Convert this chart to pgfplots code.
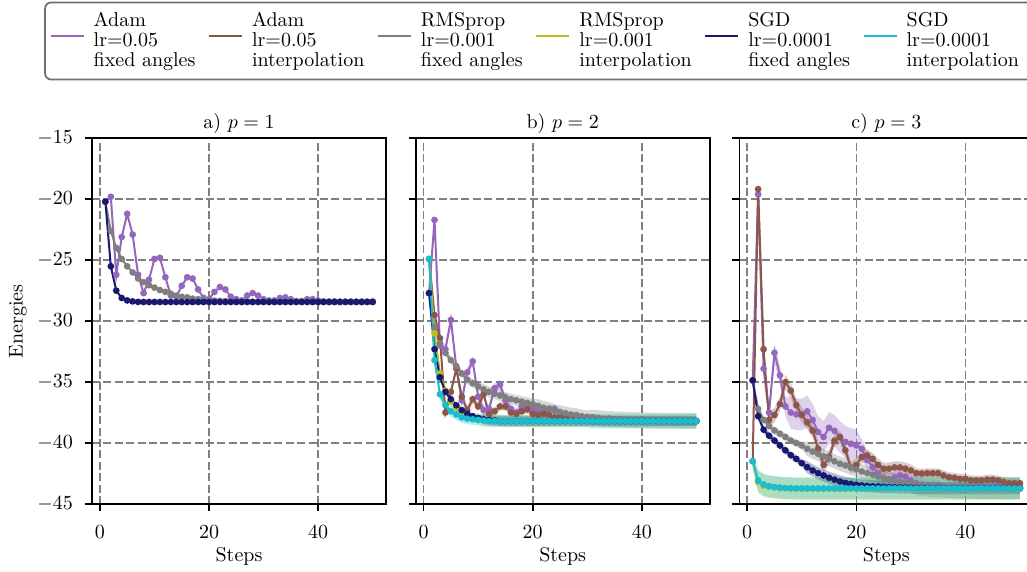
\documentclass[border=0pt]{standalone}
\usepackage{pgfplots}
\pgfplotsset{compat=1.18}
\usepackage{pgfplotstable}
\usepgfplotslibrary{fillbetween}

\definecolor{cPurple}{HTML}{9467BD}
\definecolor{cBrown}{HTML}{8C564B}
\definecolor{cGray}{HTML}{7F7F7F}
\definecolor{cOlive}{HTML}{BCBD22}
\definecolor{cNavy}{HTML}{191970}
\definecolor{cCyan}{HTML}{17BECF}
\definecolor{gridgray}{HTML}{808080}
\definecolor{legendgray}{HTML}{707070}

\pgfplotstableread{
s adF rmF sgF
1 -20.2 -20.2 -20.2
2 -19.8 -22.6 -25.5
3 -26.2 -24.0 -27.5
4 -23.1 -24.9 -28.1
5 -21.2 -25.5 -28.3
6 -22.9 -26.0 -28.38
7 -26.2 -26.5 -28.42
8 -27.7 -26.8 -28.43
9 -26.6 -27.05 -28.43
10 -24.9 -27.25 -28.43
11 -24.8 -27.45 -28.43
12 -26.4 -27.6 -28.43
13 -27.9 -27.75 -28.43
14 -28.0 -27.9 -28.43
15 -27.1 -28.0 -28.43
16 -26.4 -28.05 -28.43
17 -26.5 -28.15 -28.43
18 -27.4 -28.2 -28.43
19 -28.1 -28.25 -28.43
20 -28.2 -28.3 -28.43
21 -27.6 -28.32 -28.43
22 -27.2 -28.34 -28.43
23 -27.4 -28.36 -28.43
24 -28.0 -28.37 -28.43
25 -28.2 -28.38 -28.43
26 -28.3 -28.39 -28.43
27 -27.9 -28.4 -28.43
28 -27.7 -28.4 -28.43
29 -27.9 -28.4 -28.43
30 -28.2 -28.4 -28.43
31 -28.3 -28.4 -28.43
32 -28.3 -28.4 -28.43
33 -28.1 -28.4 -28.43
34 -28.05 -28.4 -28.43
35 -28.2 -28.4 -28.43
36 -28.35 -28.4 -28.43
37 -28.35 -28.4 -28.43
38 -28.2 -28.4 -28.43
39 -28.2 -28.4 -28.43
40 -28.3 -28.4 -28.43
41 -28.38 -28.4 -28.43
42 -28.4 -28.4 -28.43
43 -28.38 -28.4 -28.43
44 -28.4 -28.4 -28.43
45 -28.4 -28.4 -28.43
46 -28.4 -28.4 -28.43
47 -28.4 -28.4 -28.43
48 -28.4 -28.4 -28.43
49 -28.4 -28.4 -28.43
50 -28.4 -28.4 -28.43
}\tA

\pgfplotstableread{
s adF adI rmF rmI sgF sgI eA eB eR eO eS eC
1 -27.7 -24.9 -27.7 -24.9 -27.7 -24.9 0 0 0 0 0 0
2 -21.7 -29.5 -30.5 -31.0 -32.3 -33.2 0.4 0.35 0.3 0.4 0.2 0.3
3 -32.0 -31.4 -31.8 -34.3 -34.6 -36.0 0.4 0.35 0.35 0.4 0.2 0.45
4 -32.3 -37.5 -32.6 -35.7 -35.8 -36.9 0.4 0.35 0.35 0.4 0.2 0.45
5 -29.9 -35.8 -33.2 -36.6 -36.4 -37.4 0.4 0.35 0.35 0.4 0.2 0.45
6 -33.8 -33.9 -33.7 -37.1 -36.9 -37.65 0.4 0.35 0.35 0.4 0.2 0.45
7 -36.5 -36.2 -34.3 -37.5 -37.3 -37.9 0.4 0.35 0.35 0.4 0.2 0.45
8 -34.2 -37.3 -34.8 -37.7 -37.6 -38.0 0.4 0.35 0.35 0.4 0.2 0.45
9 -33.3 -36.4 -35.1 -37.9 -37.8 -38.05 0.4 0.35 0.35 0.4 0.2 0.45
10 -36.2 -37.0 -35.35 -38.0 -37.95 -38.1 0.4 0.35 0.35 0.4 0.2 0.45
11 -37.3 -36.0 -35.6 -38.05 -38.05 -38.15 0.4 0.35 0.45 0.5 0.4 0.5
12 -37.2 -37.6 -35.8 -38.1 -38.1 -38.2 0.4 0.35 0.45 0.5 0.4 0.5
13 -35.5 -37.4 -35.95 -38.12 -38.15 -38.2 0.4 0.35 0.45 0.5 0.4 0.5
14 -35.2 -37.0 -36.1 -38.15 -38.2 -38.2 0.4 0.35 0.45 0.5 0.4 0.5
15 -36.5 -37.0 -36.25 -38.2 -38.2 -38.2 0.4 0.35 0.45 0.5 0.4 0.5
16 -37.2 -37.5 -36.4 -38.2 -38.2 -38.2 0.35 0.3 0.45 0.5 0.4 0.5
17 -37.5 -37.6 -36.5 -38.2 -38.2 -38.2 0.35 0.3 0.45 0.5 0.4 0.5
18 -37.0 -37.4 -36.6 -38.2 -38.2 -38.2 0.35 0.3 0.45 0.5 0.4 0.5
19 -36.9 -37.25 -36.7 -38.2 -38.2 -38.2 0.35 0.3 0.45 0.5 0.4 0.5
20 -37.2 -37.6 -36.8 -38.2 -38.2 -38.2 0.35 0.3 0.45 0.5 0.4 0.5
21 -37.4 -37.7 -36.95 -38.2 -38.2 -38.2 0.35 0.3 0.55 0.5 0.4 0.5
22 -37.5 -37.6 -37.1 -38.2 -38.2 -38.2 0.35 0.3 0.55 0.5 0.4 0.5
23 -37.2 -37.7 -37.2 -38.2 -38.2 -38.2 0.35 0.3 0.55 0.5 0.4 0.5
24 -37.2 -37.9 -37.35 -38.2 -38.2 -38.2 0.35 0.3 0.55 0.5 0.4 0.5
25 -37.6 -37.9 -37.45 -38.2 -38.2 -38.2 0.35 0.3 0.55 0.5 0.4 0.5
26 -37.9 -38.0 -37.55 -38.2 -38.2 -38.2 0.35 0.3 0.55 0.5 0.4 0.5
27 -37.8 -37.95 -37.65 -38.2 -38.2 -38.2 0.35 0.3 0.55 0.5 0.4 0.5
28 -37.9 -38.0 -37.7 -38.2 -38.2 -38.2 0.35 0.3 0.55 0.5 0.4 0.5
29 -37.95 -38.05 -37.8 -38.2 -38.2 -38.2 0.35 0.3 0.55 0.5 0.4 0.5
30 -38.0 -38.05 -37.85 -38.2 -38.2 -38.2 0.35 0.3 0.55 0.5 0.4 0.5
31 -37.9 -38.1 -37.9 -38.2 -38.2 -38.2 0.3 0.3 0.65 0.5 0.4 0.6
32 -38.0 -38.1 -37.95 -38.2 -38.2 -38.2 0.3 0.3 0.65 0.5 0.4 0.6
33 -38.05 -38.1 -38.0 -38.2 -38.2 -38.2 0.3 0.3 0.65 0.5 0.4 0.6
34 -38.0 -38.1 -38.02 -38.2 -38.2 -38.2 0.3 0.3 0.65 0.5 0.4 0.6
35 -38.1 -38.1 -38.05 -38.2 -38.2 -38.2 0.3 0.3 0.65 0.5 0.4 0.6
36 -38.1 -38.12 -38.07 -38.2 -38.2 -38.2 0.3 0.3 0.65 0.5 0.4 0.6
37 -38.1 -38.12 -38.09 -38.2 -38.2 -38.2 0.3 0.3 0.65 0.5 0.4 0.6
38 -38.12 -38.13 -38.1 -38.2 -38.2 -38.2 0.3 0.3 0.65 0.5 0.4 0.6
39 -38.12 -38.14 -38.12 -38.2 -38.2 -38.2 0.3 0.3 0.65 0.5 0.4 0.6
40 -38.14 -38.15 -38.13 -38.2 -38.2 -38.2 0.3 0.3 0.65 0.5 0.4 0.6
41 -38.15 -38.15 -38.14 -38.2 -38.2 -38.2 0.3 0.3 0.65 0.5 0.4 0.6
42 -38.15 -38.16 -38.15 -38.2 -38.2 -38.2 0.3 0.3 0.65 0.5 0.4 0.6
43 -38.16 -38.16 -38.16 -38.2 -38.2 -38.2 0.3 0.3 0.65 0.5 0.4 0.6
44 -38.16 -38.17 -38.16 -38.2 -38.2 -38.2 0.3 0.3 0.65 0.5 0.4 0.6
45 -38.17 -38.17 -38.17 -38.2 -38.2 -38.2 0.3 0.3 0.65 0.5 0.4 0.6
46 -38.17 -38.18 -38.17 -38.2 -38.2 -38.2 0.3 0.3 0.65 0.5 0.4 0.6
47 -38.18 -38.18 -38.18 -38.2 -38.2 -38.2 0.3 0.3 0.65 0.5 0.4 0.6
48 -38.18 -38.19 -38.18 -38.2 -38.2 -38.2 0.3 0.3 0.65 0.5 0.4 0.6
49 -38.19 -38.19 -38.19 -38.2 -38.2 -38.2 0.3 0.3 0.65 0.5 0.4 0.6
50 -38.2 -38.2 -38.2 -38.2 -38.2 -38.2 0.3 0.3 0.65 0.5 0.4 0.6
}\tB

\pgfplotstableread{
s adF adI rmF rmI sgF sgI eA eB eR eO eS eC
1 -34.86 -41.5 -34.86 -41.5 -34.86 -41.5 0 0 0 0.6 0 0.6
2 -19.6 -19.17 -37.2 -43.2 -37.8 -43.07 0.6 0.5 0.3 0.9 0.3 0.9
3 -33.9 -32.3 -38.1 -43.5 -38.9 -43.4 0.8 0.6 0.3 0.9 0.3 0.9
4 -37.5 -38.1 -38.6 -43.6 -39.4 -43.54 0.8 0.6 0.3 0.9 0.3 0.9
5 -32.6 -37.7 -38.97 -43.65 -39.8 -43.6 0.8 0.6 0.3 0.9 0.3 0.9
6 -34.45 -36.8 -39.24 -43.7 -40.2 -43.65 0.8 0.6 0.3 0.9 0.3 0.9
7 -37.0 -35.0 -39.5 -43.72 -40.6 -43.68 0.8 0.6 0.3 0.9 0.3 0.9
8 -37.5 -35.7 -39.8 -43.74 -41.0 -43.7 1.3 0.6 0.3 0.9 0.3 0.9
9 -37.65 -36.9 -40.0 -43.75 -41.3 -43.72 1.3 0.6 0.3 0.9 0.3 0.9
10 -37.65 -37.7 -40.2 -43.75 -41.65 -43.72 1.3 0.6 0.3 0.9 0.3 0.9
11 -37.4 -38.3 -40.47 -43.75 -41.98 -43.72 1.3 0.6 0.6 0.9 0.5 0.9
12 -38.1 -38.97 -40.7 -43.75 -42.25 -43.72 1.3 0.6 0.6 0.9 0.5 0.9
13 -39.1 -40.47 -40.88 -43.75 -42.47 -43.72 1.3 0.6 0.6 0.9 0.5 0.9
14 -39.5 -41.8 -41.1 -43.75 -42.66 -43.72 1.3 0.6 0.6 0.9 0.5 0.9
15 -38.75 -41.16 -41.3 -43.75 -42.85 -43.72 1.3 0.6 0.6 0.9 0.5 0.9
16 -39.0 -39.8 -41.5 -43.75 -43.0 -43.72 1.3 0.5 0.6 0.9 0.5 0.9
17 -39.5 -39.5 -41.7 -43.75 -43.15 -43.72 1.3 0.5 0.6 0.9 0.5 0.9
18 -39.9 -40.6 -41.84 -43.75 -43.27 -43.72 1.3 0.5 0.6 0.9 0.5 0.9
19 -40.06 -42.0 -42.0 -43.75 -43.35 -43.72 1.3 0.5 0.6 0.9 0.5 0.9
20 -40.2 -41.8 -42.17 -43.75 -43.43 -43.72 1.3 0.5 0.6 0.9 0.5 0.9
21 -40.47 -41.16 -42.33 -43.75 -43.48 -43.72 0.8 0.5 0.6 0.9 0.5 0.9
22 -41.4 -41.02 -42.47 -43.75 -43.52 -43.72 0.8 0.5 0.6 0.9 0.5 0.9
23 -42.0 -41.3 -42.6 -43.75 -43.55 -43.72 0.8 0.5 0.6 0.9 0.5 0.9
24 -42.5 -41.8 -42.74 -43.75 -43.57 -43.72 0.8 0.5 0.6 0.9 0.5 0.9
25 -42.85 -42.1 -42.85 -43.75 -43.6 -43.72 0.8 0.5 0.6 0.9 0.5 0.9
26 -43.0 -42.1 -42.96 -43.75 -43.62 -43.72 0.5 0.5 0.6 0.9 0.5 0.9
27 -42.8 -42.0 -43.07 -43.75 -43.63 -43.72 0.5 0.5 0.6 0.9 0.5 0.9
28 -42.66 -42.0 -43.18 -43.75 -43.64 -43.72 0.5 0.5 0.6 0.9 0.5 0.9
29 -42.75 -42.1 -43.27 -43.75 -43.65 -43.72 0.5 0.5 0.6 0.9 0.5 0.9
30 -43.07 -42.25 -43.35 -43.75 -43.66 -43.72 0.5 0.5 0.6 0.9 0.5 0.9
31 -43.3 -42.47 -43.4 -43.75 -43.67 -43.72 0.5 0.4 0.9 0.9 0.5 0.9
32 -43.4 -42.5 -43.45 -43.75 -43.68 -43.72 0.5 0.4 0.9 0.9 0.5 0.9
33 -43.45 -42.47 -43.5 -43.75 -43.68 -43.72 0.5 0.4 0.9 0.9 0.5 0.9
34 -43.5 -42.47 -43.53 -43.75 -43.69 -43.72 0.5 0.4 0.9 0.9 0.5 0.9
35 -43.5 -42.47 -43.55 -43.75 -43.69 -43.72 0.5 0.4 0.9 0.9 0.5 0.9
36 -43.55 -42.66 -43.58 -43.75 -43.7 -43.72 0.3 0.4 0.9 0.9 0.5 0.9
37 -43.58 -42.8 -43.6 -43.75 -43.7 -43.72 0.3 0.4 0.9 0.9 0.5 0.9
38 -43.6 -42.85 -43.62 -43.75 -43.7 -43.72 0.3 0.4 0.9 0.9 0.5 0.9
39 -43.6 -42.94 -43.64 -43.75 -43.7 -43.72 0.3 0.4 0.9 0.9 0.5 0.9
40 -43.6 -42.94 -43.65 -43.75 -43.7 -43.72 0.3 0.4 0.9 0.9 0.5 0.9
41 -43.6 -43.07 -43.66 -43.75 -43.7 -43.72 0.3 0.4 0.9 0.9 0.5 0.9
42 -43.6 -43.07 -43.67 -43.75 -43.7 -43.72 0.3 0.4 0.9 0.9 0.5 0.9
43 -43.6 -43.07 -43.68 -43.75 -43.7 -43.72 0.3 0.4 0.9 0.9 0.5 0.9
44 -43.6 -43.0 -43.68 -43.75 -43.7 -43.72 0.3 0.4 0.9 0.9 0.5 0.9
45 -43.6 -43.0 -43.69 -43.75 -43.7 -43.72 0.3 0.4 0.9 0.9 0.5 0.9
46 -43.6 -43.07 -43.69 -43.75 -43.7 -43.72 0.3 0.4 0.9 0.9 0.5 0.9
47 -43.6 -43.2 -43.7 -43.75 -43.7 -43.72 0.3 0.4 0.9 0.9 0.5 0.9
48 -43.6 -43.3 -43.7 -43.75 -43.7 -43.72 0.3 0.4 0.9 0.9 0.5 0.9
49 -43.6 -43.3 -43.7 -43.75 -43.7 -43.72 0.3 0.4 0.9 0.9 0.5 0.9
50 -43.6 -43.3 -43.7 -43.75 -43.7 -43.72 0.3 0.4 0.9 0.9 0.5 0.9
}\tC

% band: table, column, sd column, colour, unique id
\newcommand{\band}[5]{%
  \addplot[draw=none, forget plot, name path=#5u] table[x=s, y expr=\thisrow{#2}+\thisrow{#3}] {#1};
  \addplot[draw=none, forget plot, name path=#5l] table[x=s, y expr=\thisrow{#2}-\thisrow{#3}] {#1};
  \addplot[fill=#4, fill opacity=0.3, draw=none, forget plot] fill between[of=#5u and #5l];
}
\newcommand{\series}[3]{%
  \addplot[#3, line width=1pt, mark=*, mark size=1.15pt, mark options={solid, fill=#3, draw=#3}, forget plot] table[x=s, y=#2] {#1};
}
\newcommand{\legtext}[3]{{\renewcommand{\arraystretch}{0.82}\begin{tabular}[b]{@{}l@{}}#1\\#2\\#3\end{tabular}}}

\pgfplotsset{
  panel/.style={
    scale only axis, width=147pt, height=182.85pt,
    xmin=-1.45, xmax=52.45, ymin=-45, ymax=-15,
    xtick={0,20,40}, ytick={-45,-40,...,-15},
    tick pos=left, tick align=outside, major tick length=3.5pt,
    tick style={black, line width=0.8pt},
    axis line style={line width=0.8pt},
    xticklabel style={yshift=-4pt},
    yticklabel style={xshift=-2.5pt},
    grid=major,
    major grid style={dash pattern=on 4pt off 1.7pt, line width=0.8pt, color=gridgray},
    xlabel={Steps},
    every axis x label/.style={at={(axis description cs:0.5,-0.1578)}, anchor=base},
    title style={at={(0.5,1)}, anchor=base, yshift=-1pt},
    anchor=south west,
  },
}

\begin{document}
\begin{tikzpicture}
\path (0,0);

% ---------------- panel a
\begin{axis}[panel, at={(46pt,34pt)}, title={a) $p=1$},
  ylabel={Energies},
  every axis y label/.style={at={(axis description cs:-0.252,0.5)}, rotate=90, anchor=center},
  legend columns=6,
  legend image code/.code={\draw[#1] (0pt,2.45pt) -- (16.5pt,2.45pt);},
  legend style={at={(axis description cs:-0.1626,1.374)}, anchor=north west,
    draw=legendgray, line width=0.9pt, rounded corners=3pt,
    inner xsep=2.3pt, inner ysep=3pt,
    /tikz/every odd column/.append style={column sep=2.5pt},
    /tikz/every even column/.append style={column sep=4.3pt}},
  ]
\addlegendimage{cPurple, line width=1pt}\addlegendentry{\legtext{Adam}{lr=0.05}{fixed angles}}
\addlegendimage{cBrown, line width=1pt}\addlegendentry{\legtext{Adam}{lr=0.05}{interpolation}}
\addlegendimage{cGray, line width=1pt}\addlegendentry{\legtext{RMSprop}{lr=0.001}{fixed angles}}
\addlegendimage{cOlive, line width=1pt}\addlegendentry{\legtext{RMSprop}{lr=0.001}{interpolation}}
\addlegendimage{cNavy, line width=1pt}\addlegendentry{\legtext{SGD}{lr=0.0001}{fixed angles}}
\addlegendimage{cCyan, line width=1pt}\addlegendentry{\legtext{SGD}{lr=0.0001}{interpolation\hspace*{6pt}}}
\series{\tA}{adF}{cPurple}
\series{\tA}{rmF}{cGray}
\series{\tA}{sgF}{cNavy}
\end{axis}

% ---------------- panel b
\begin{axis}[panel, at={(207.85pt,34pt)}, title={b) $p=2$}, yticklabels={}]
\band{\tB}{adF}{eA}{cPurple}{ba}
\band{\tB}{adI}{eB}{cBrown}{bb}
\band{\tB}{rmF}{eR}{cGray}{bc}
\band{\tB}{rmI}{eO}{cOlive}{bd}
\band{\tB}{sgF}{eS}{cNavy}{be}
\band{\tB}{sgI}{eC}{cCyan}{bf}
\series{\tB}{adF}{cPurple}
\series{\tB}{adI}{cBrown}
\series{\tB}{rmF}{cGray}
\series{\tB}{rmI}{cOlive}
\series{\tB}{sgF}{cNavy}
\series{\tB}{sgI}{cCyan}
\end{axis}

% ---------------- panel c
\begin{axis}[panel, at={(369.65pt,34pt)}, title={c) $p=3$}, yticklabels={}]
\band{\tC}{adF}{eA}{cPurple}{ca}
\band{\tC}{adI}{eB}{cBrown}{cb}
\band{\tC}{rmF}{eR}{cGray}{cc}
\band{\tC}{rmI}{eO}{cOlive}{cd}
\band{\tC}{sgF}{eS}{cNavy}{ce}
\band{\tC}{sgI}{eC}{cCyan}{cf}
\series{\tC}{adF}{cPurple}
\series{\tC}{adI}{cBrown}
\series{\tC}{rmF}{cGray}
\series{\tC}{rmI}{cOlive}
\series{\tC}{sgF}{cNavy}
\series{\tC}{sgI}{cCyan}
\end{axis}

\pgfresetboundingbox
\useasboundingbox (0,0) rectangle (513.5pt,286pt);
\end{tikzpicture}
\end{document}
